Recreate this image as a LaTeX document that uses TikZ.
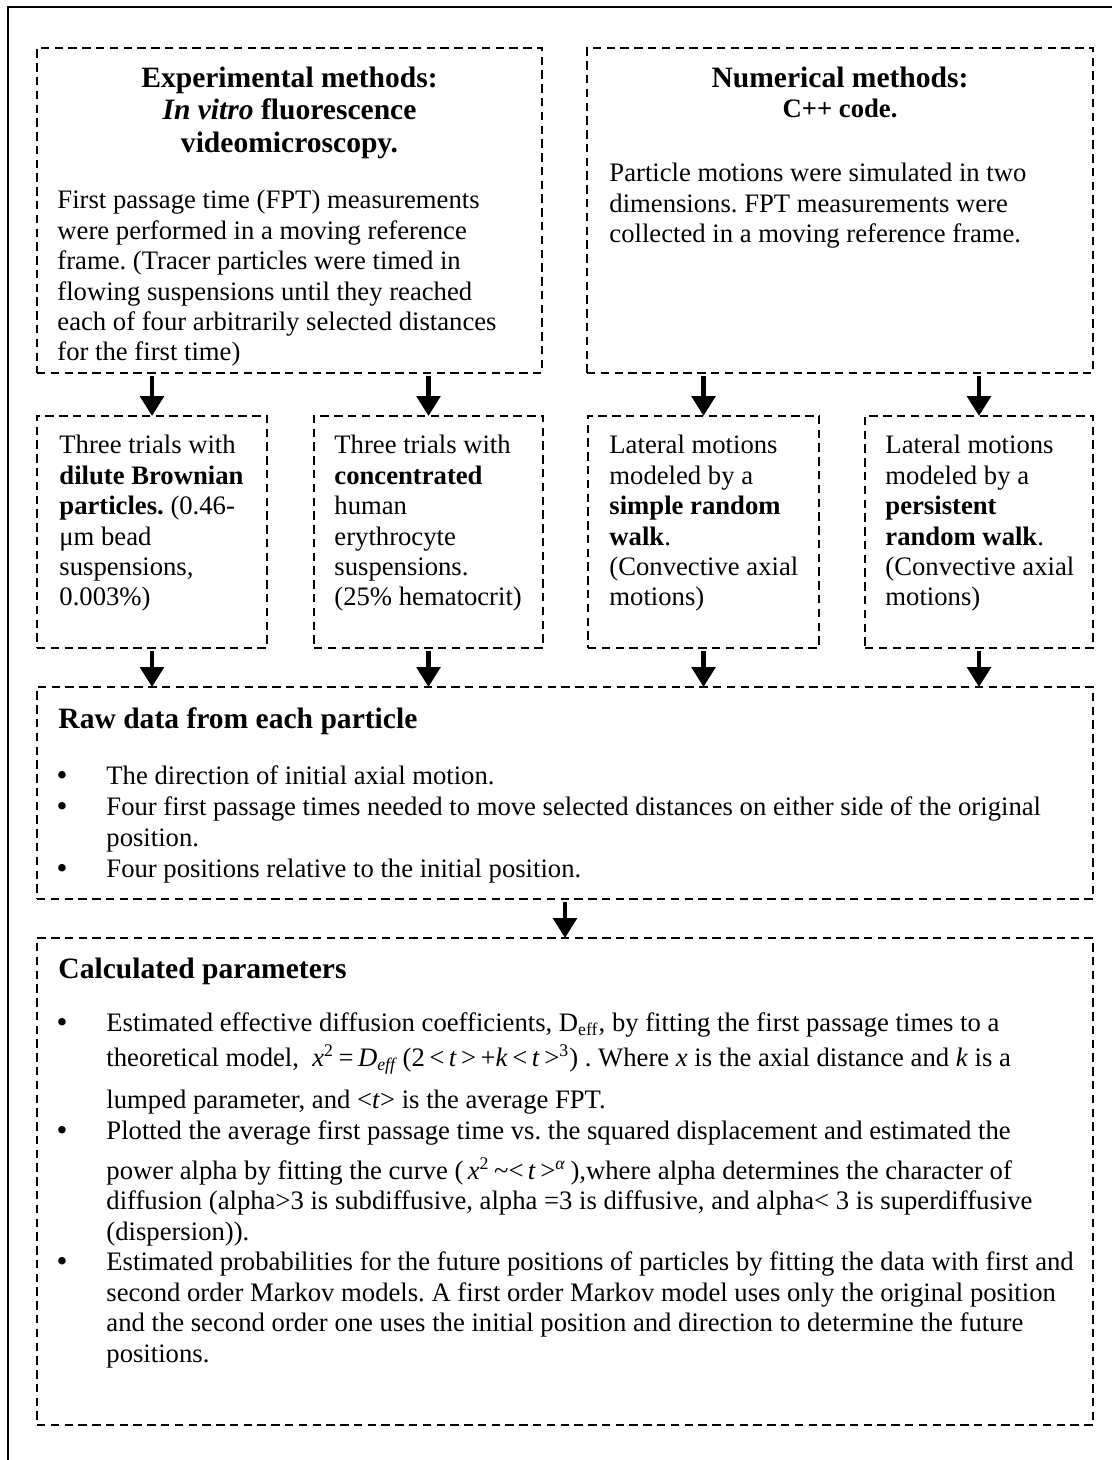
\documentclass[tikz,border=0pt]{standalone}
\usepackage{fontspec}
\setmainfont{Liberation Serif}
\usetikzlibrary{arrows.meta}
\newcommand\bodyfont{\fontsize{12}{13.7}\selectfont}
\newcommand\headfont{\fontsize{13.3}{14.6}\selectfont\bfseries}
\frenchspacing
\begin{document}
\frenchspacing
\begin{tikzpicture}[x=0.45pt,y=-0.45pt,
  box/.style={draw, line width=0.8pt, dash pattern=on 3.8pt off 2.4pt, anchor=north west, inner sep=0, outer sep=0},
  flow/.style={line width=2.2pt, -{Triangle[length=9pt,width=10.5pt]}, shorten <=1.5pt},
  para/.style={anchor=north west, inner sep=0, align=left, font=\bodyfont},
  title/.style={anchor=north, inner sep=0, align=center, font=\headfont},
  head/.style={anchor=base west, inner sep=0, font=\headfont},
  txtline/.style={anchor=base west, inner sep=0, font=\bodyfont},
  bul/.style={anchor=base, inner sep=0, font=\fontsize{14}{14}\selectfont},
]
\useasboundingbox (0,0) rectangle (1112,1460);
\draw[line width=1.1pt] (8,1460) -- (8,7) -- (1112,7);

% boxes
\node[box, minimum width=227.25pt, minimum height=146.25pt] (exp) at (37,48) {};
\node[box, minimum width=227.7pt, minimum height=146.25pt] (num) at (587,48) {};
\node[box, minimum width=103.5pt, minimum height=104.4pt] (s1) at (37,416) {};
\node[box, minimum width=103.05pt, minimum height=104.4pt] (s2) at (314,416) {};
\node[box, minimum width=103.95pt, minimum height=104.4pt] (s3) at (588,416) {};
\node[box, minimum width=102.6pt, minimum height=104.4pt] (s4) at (865,416) {};
\node[box, minimum width=475.2pt, minimum height=95.4pt] (raw) at (37,687) {};
\node[box, minimum width=475.2pt, minimum height=219.15pt] (calc) at (37,938) {};

% arrows
\draw[flow] (exp.south -| s1.north) -- (s1.north);
\draw[flow] (exp.south -| s2.north) -- (s2.north);
\draw[flow] (num.south -| s3.north) -- (s3.north);
\draw[flow] (num.south -| s4.north) -- (s4.north);
\draw[flow] (s1.south) -- (s1.south |- raw.north);
\draw[flow] (s2.south) -- (s2.south |- raw.north);
\draw[flow] (s3.south) -- (s3.south |- raw.north);
\draw[flow] (s4.south) -- (s4.south |- raw.north);
\draw[flow] (raw.south) -- (calc.north);

% top boxes
\node[title] (expt) at (289.5,64) {\strut Experimental methods:\\ \textit{In vitro} fluorescence\\ videomicroscopy.};
\node[para] (expb) at (57,187) {\strut First passage time (FPT) measurements\\ were performed in a moving reference\\ frame. (Tracer particles were timed in\\ flowing suspensions until they reached\\ each of four arbitrarily selected distances\\ for the first time)};
\node[title] (numt) at (840,64) {\strut Numerical methods:\\[-1pt] {\bodyfont\bfseries C++ code.}};
\node[para] (numb) at (609,160) {\strut Particle motions were simulated in two\\ dimensions. FPT measurements were\\ collected in a moving reference frame.};

% small boxes
\node[para] (s1t) at (59,432) {\strut Three trials with\\ \textbf{dilute Brownian}\\ \textbf{particles.} (0.46-\\ μm bead\\ suspensions,\\ 0.003\%)};
\node[para] (s2t) at (334,432) {\strut Three trials with\\ \textbf{concentrated}\\ human\\ erythrocyte\\ suspensions.\\ (25\% hematocrit)};
\node[para] (s3t) at (609,432) {\strut Lateral motions\\ modeled by a\\ \textbf{simple random}\\ \textbf{walk}.\\ (Convective axial\\ motions)};
\node[para] (s4t) at (885,432) {\strut Lateral motions\\ modeled by a\\ \textbf{persistent}\\ \textbf{random walk}.\\ (Convective axial\\ motions)};

% raw data
\node[head] (rawh) at (58,728) {Raw data from each particle};
\node[bul] (rb1) at (62,785) {\textbullet};
\node[txtline] (rl1) at (106,784) {The direction of initial axial motion.};
\node[bul] (rb2) at (62,816) {\textbullet};
\node[txtline] (rl2) at (106,815) {Four first passage times needed to move selected distances on either side of the original};
\node[txtline] (rl3) at (106,846) {position.};
\node[bul] (rb3) at (62,878) {\textbullet};
\node[txtline] (rl4) at (106,877) {Four positions relative to the initial position.};

% calculated parameters
\node[head] (calch) at (58,978) {Calculated parameters};
\node[bul] (cb1) at (62,1032) {\textbullet};
\node[txtline] (cl1) at (106,1031) {Estimated effective diffusion coefficients, D\textsubscript{eff}, by fitting the first passage times to a};
\node[txtline] (cl2) at (106,1066) {theoretical model,\ \ \textit{x}\textsuperscript{2}\,=\,\textit{D}\textsubscript{\textit{eff}}\,(2\,<\,\textit{t}\,>\,+\textit{k}\,<\,\textit{t}\,>\textsuperscript{3})\ . Where \textit{x} is the axial distance and \textit{k} is a};
\node[txtline] (cl3) at (106,1108) {lumped parameter, and <\textit{t}> is the average FPT.};
\node[bul] (cb2) at (62,1140) {\textbullet};
\node[txtline] (cl4) at (106,1139) {Plotted the average first passage time vs. the squared displacement and estimated the};
\node[txtline] (cl5) at (106,1179) {power alpha by fitting the curve (\,\textit{x}\textsuperscript{2}\,\textasciitilde<\,\textit{t}\,>\textsuperscript{\textit{α}}\,),where alpha determines the character of};
\node[txtline] (cl6) at (106,1209.5) {diffusion (alpha>3 is subdiffusive, alpha =3 is diffusive, and alpha< 3 is superdiffusive};
\node[txtline] (cl7) at (106,1240) {(dispersion)).};
\node[bul] (cb3) at (62,1271.5) {\textbullet};
\node[txtline] (cl8) at (106,1270.5) {Estimated probabilities for the future positions of particles by fitting the data with first and};
\node[txtline] (cl9) at (106,1301) {second order Markov models. A first order Markov model uses only the original position};
\node[txtline] (cl10) at (106,1331.5) {and the second order one uses the initial position and direction to determine the future};
\node[txtline] (cl11) at (106,1362) {positions.};
\end{tikzpicture}
\end{document}
